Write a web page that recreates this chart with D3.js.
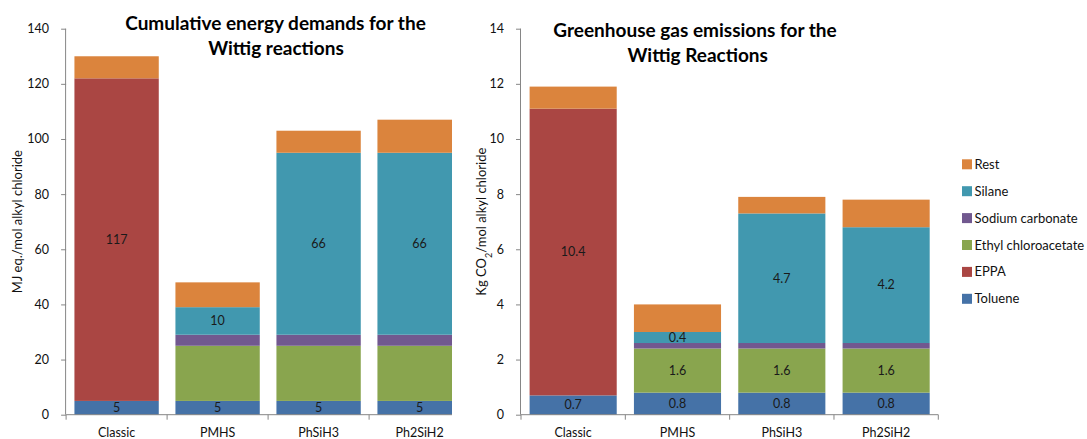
<!DOCTYPE html>
<html><head><meta charset="utf-8">
<script src="https://cdn.jsdelivr.net/npm/d3@7"></script>
<style>body{margin:0;background:#fff}svg{display:block;font-family:Lato,"Liberation Sans",sans-serif}</style>
</head><body>
<svg id="c" width="1087" height="439"></svg>
<script>
// ---- data ----
const categories = ["Classic", "PMHS", "PhSiH3", "Ph2SiH2"];
const seriesNames = ["Toluene", "EPPA", "Ethyl chloroacetate", "Sodium carbonate", "Silane", "Rest"];
const seriesColors = ["#4572A7", "#AA4643", "#89A54E", "#71588F", "#4198AF", "#DB843D"];

// Cumulative energy demand (MJ eq./mol alkyl chloride)
const cedToluene = [5, 5, 5, 5];
const cedEPPA = [117, 0, 0, 0];
const cedEthyl = [0, 20, 20, 20];
const cedSodium = [0, 4, 4, 4];
const cedSilane = [0, 10, 66, 66];
const cedRest = [8, 9, 8, 12];
const cedTicks = [0, 20, 40, 60, 80, 100, 120, 140];
// labels shown on segments (null = none)
const cedLabelToluene = ["5", "5", "5", "5"];
const cedLabelEPPA = ["117", null, null, null];
const cedLabelEthyl = [null, null, null, null];
const cedLabelSodium = [null, null, null, null];
const cedLabelSilane = [null, "10", "66", "66"];
const cedLabelRest = [null, null, null, null];

// Greenhouse gas emissions (Kg CO2/mol alkyl chloride)
const ghgToluene = [0.7, 0.8, 0.8, 0.8];
const ghgEPPA = [10.4, 0, 0, 0];
const ghgEthyl = [0, 1.6, 1.6, 1.6];
const ghgSodium = [0, 0.2, 0.2, 0.2];
const ghgSilane = [0, 0.4, 4.7, 4.2];
const ghgRest = [0.8, 1.0, 0.6, 1.0];
const ghgTicks = [0, 2, 4, 6, 8, 10, 12, 14];
const ghgLabelToluene = ["0.7", "0.8", "0.8", "0.8"];
const ghgLabelEPPA = ["10.4", null, null, null];
const ghgLabelEthyl = [null, "1.6", "1.6", "1.6"];
const ghgLabelSodium = [null, null, null, null];
const ghgLabelSilane = [null, "0.4", "4.7", "4.2"];
const ghgLabelRest = [null, null, null, null];

const svg = d3.select("#c");
const axisColor = "#868686";

function buildRows(vals) {
  return categories.map((c, i) => {
    const r = {cat: c};
    seriesNames.forEach((s, k) => r[s] = vals[k][i]);
    return r;
  });
}

function drawChart(cfg) {
  const g = svg.append("g");
  const clipId = cfg.id + "clip";
  svg.append("defs").append("clipPath").attr("id", clipId)
    .append("rect").attr("x", 0).attr("y", 0).attr("width", cfg.clipRight).attr("height", 439);
  g.attr("clip-path", `url(#${clipId})`);

  const x = d3.scaleBand().domain(categories).range(cfg.xRange)
    .paddingInner(0.165).paddingOuter(0.0825);
  const y = d3.scaleLinear().domain([0, cfg.yMax]).range([414.7, 28.7]);

  const rows = buildRows(cfg.values);
  const stack = d3.stack().keys(seriesNames)(rows);

  stack.forEach((layer, k) => {
    g.append("g").attr("fill", seriesColors[k])
      .selectAll("rect").data(layer).join("rect")
      .attr("x", d => x(d.data.cat))
      .attr("width", x.bandwidth())
      .attr("y", d => y(d[1]))
      .attr("height", d => Math.max(0, y(d[0]) - y(d[1])));
  });

  // segment labels
  stack.forEach((layer, k) => {
    g.append("g").selectAll("text").data(layer.map((d, i) => ({d, lab: cfg.labels[k][i]})).filter(o => o.lab))
      .join("text")
      .attr("x", o => x(o.d.data.cat) + x.bandwidth() / 2)
      .attr("y", o => y((o.d[0] + o.d[1]) / 2))
      .attr("dy", "0.35em")
      .attr("text-anchor", "middle")
      .attr("font-size", 12.5)
      .attr("fill", "#1a1a1a")
      .text(o => o.lab);
  });

  // y axis
  const ya = g.append("g").attr("transform", `translate(${cfg.xRange[0]},0)`)
    .call(d3.axisLeft(y).tickValues(cfg.ticks).tickSize(5).tickPadding(12).tickFormat(d3.format("d")));
  ya.select(".domain").attr("stroke", axisColor).attr("d", `M-0.5,${y(0)}V${y(cfg.yMax)}`);
  ya.selectAll(".tick line").attr("stroke", axisColor);
  ya.selectAll(".tick text").attr("font-size", 12.5).attr("fill", "#111").attr("font-family", "Lato, sans-serif");

  // x axis
  const xa = g.append("g").attr("transform", `translate(0,${y(0)})`);
  xa.append("line").attr("x1", cfg.xRange[0]).attr("x2", cfg.xRange[1]).attr("stroke", axisColor);
  const bounds = d3.range(categories.length + 1).map(i => cfg.xRange[0] + i * x.step());
  xa.selectAll("line.t").data(bounds).join("line").attr("class", "t")
    .attr("x1", d => d).attr("x2", d => d).attr("y1", 0).attr("y2", 5).attr("stroke", axisColor);
  xa.selectAll("text").data(categories).join("text")
    .attr("x", d => x(d) + x.bandwidth() / 2).attr("y", 22.5)
    .attr("text-anchor", "middle").attr("font-size", 12.5).attr("fill", "#111").text(d => d);

  // title
  const t = g.append("text").attr("text-anchor", "middle").attr("font-weight", "bold")
    .attr("font-size", cfg.titleSize).attr("fill", "#000");
  cfg.title.forEach((line, i) => {
    t.append("tspan").attr("x", cfg.titleX[i]).attr("y", cfg.titleY[i]).attr("dy", "0.35em").text(line);
  });

  // y axis title
  const yt = g.append("text").attr("transform", `translate(${cfg.yTitleX},221.7) rotate(-90)`)
    .attr("text-anchor", "middle").attr("dy", "0.35em").attr("font-size", 13).attr("fill", "#111");
  cfg.yTitle(yt);
}

drawChart({
  id: "ced",
  xRange: [66.1, 470.1],
  clipRight: 452,
  yMax: 140,
  ticks: cedTicks,
  values: [cedToluene, cedEPPA, cedEthyl, cedSodium, cedSilane, cedRest],
  labels: [cedLabelToluene, cedLabelEPPA, cedLabelEthyl, cedLabelSodium, cedLabelSilane, cedLabelRest],
  title: ["Cumulative energy demands for the", "Wittig reactions"],
  titleX: [275.5, 276],
  titleY: [23.5, 48.5],
  titleSize: 19,
  yTitleX: 17.5,
  yTitle: s => s.text("MJ eq./mol alkyl chloride")
});

drawChart({
  id: "ghg",
  xRange: [521, 938.3],
  clipRight: 1087,
  yMax: 14,
  ticks: ghgTicks,
  values: [ghgToluene, ghgEPPA, ghgEthyl, ghgSodium, ghgSilane, ghgRest],
  labels: [ghgLabelToluene, ghgLabelEPPA, ghgLabelEthyl, ghgLabelSodium, ghgLabelSilane, ghgLabelRest],
  title: ["Greenhouse gas emissions for the", "Wittig Reactions"],
  titleX: [695, 697.7],
  titleY: [30, 55],
  titleSize: 19,
  yTitleX: 481,
  yTitle: s => {
    s.append("tspan").text("Kg CO");
    s.append("tspan").attr("font-size", 9).attr("baseline-shift", "sub").text("2");
    s.append("tspan").text("/mol alkyl chloride");
  }
});

// legend
const legendOrder = seriesNames.map((s, k) => ({s, c: seriesColors[k]})).reverse();
const lg = svg.append("g").attr("transform", "translate(962,164.3)");
const li = lg.selectAll("g").data(legendOrder).join("g")
  .attr("transform", (d, i) => `translate(0,${i * 26.9})`);
li.append("rect").attr("x", 0).attr("y", -5).attr("width", 10).attr("height", 10).attr("fill", d => d.c);
li.append("text").attr("x", 12.5).attr("dy", "0.35em").attr("font-size", 13).attr("fill", "#111").text(d => d.s);
</script>
</body></html>
